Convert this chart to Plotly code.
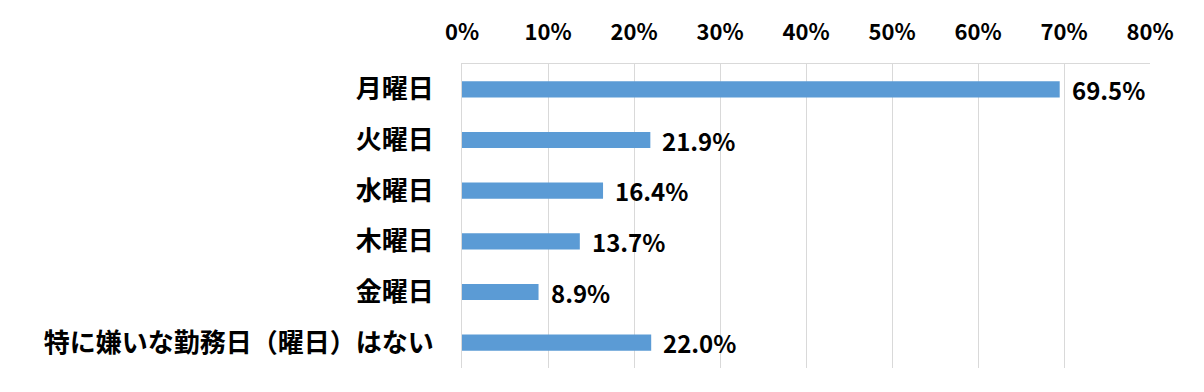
import plotly.graph_objects as go

categories = ["月曜日", "火曜日", "水曜日", "木曜日", "金曜日", "特に嫌いな勤務日（曜日）はない"]
values = [69.5, 21.9, 16.4, 13.7, 8.9, 22.0]
tick_vals = [0, 10, 20, 30, 40, 50, 60, 70, 80]
tick_text = [f"{v}%" for v in tick_vals]
labels = [f"{v:.1f}%" for v in values]

FONT = "Noto Sans CJK JP"

fig = go.Figure()
fig.add_trace(go.Bar(
    x=values, y=categories, orientation="h",
    marker=dict(color="#5B9BD5", line=dict(width=0)),
    width=0.32,
    hoverinfo="skip",
))

for c, v, t in zip(categories, values, labels):
    fig.add_annotation(x=v, y=c, text=f"<b>{t}</b>", showarrow=False,
                       xanchor="left", xshift=10, yshift=0,
                       font=dict(family=FONT, size=24, color="#000000"))

fig.update_layout(
    width=1204, height=392,
    margin=dict(l=462, r=54, t=64, b=24),
    paper_bgcolor="white", plot_bgcolor="white",
    showlegend=False,
    font=dict(family=FONT, color="#000000"),
    xaxis=dict(
        side="top", range=[0, 80], tickvals=tick_vals, ticktext=[f"<b>{t}</b>" for t in tick_text],
        showgrid=True, gridcolor="#D9D9D9", gridwidth=1,
        showline=True, linecolor="#D9D9D9", linewidth=1,
        zeroline=False, ticks="", ticklabelstandoff=14,
        tickfont=dict(family=FONT, size=22, color="#000000"),
        fixedrange=True,
    ),
    yaxis=dict(
        autorange="reversed", categoryorder="array", categoryarray=categories,
        range=[5.5, -0.5],
        showgrid=False, showline=True, linecolor="#D9D9D9", linewidth=1,
        zeroline=False, ticks="", ticklabelstandoff=22,
        tickvals=categories, ticktext=[f"<b>{c}</b>" for c in categories],
        tickfont=dict(family=FONT, size=26, color="#000000"),
        fixedrange=True,
    ),
)

fig.write_html("out.html")
